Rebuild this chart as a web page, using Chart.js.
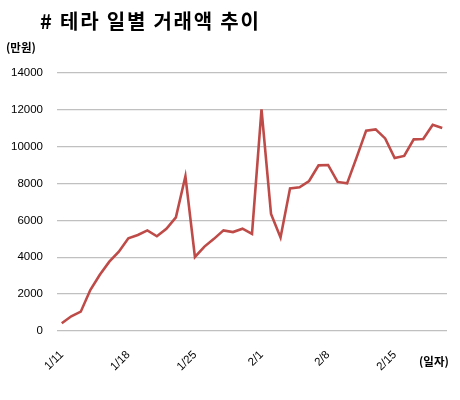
<!DOCTYPE html>
<html><head><meta charset="utf-8">
<script src="https://cdn.jsdelivr.net/npm/chart.js@4/dist/chart.umd.min.js"></script>
<style>
html,body{margin:0;padding:0;background:#fff;}
#wrap{position:relative;width:460px;height:400px;}
.t{position:absolute;font-family:"Noto Sans CJK KR","Noto Sans",sans-serif;color:#000;white-space:nowrap;font-weight:bold;}
</style></head><body>
<div id="wrap">
<canvas id="c" width="460" height="400"></canvas>
<div class="t" style="left:40px;top:7px;font-size:20px;line-height:28px;letter-spacing:1.8px;"># 테라 일별 거래액 추이</div>
<div class="t" style="left:6px;top:38px;font-size:11.5px;line-height:18px;">(만원)</div>
<div class="t" style="left:419px;top:352px;font-size:11.5px;line-height:18px;">(일자)</div>
</div>
<script>
const categories = ["1/11","1/12","1/13","1/14","1/15","1/16","1/17","1/18","1/19","1/20","1/21","1/22","1/23","1/24","1/25","1/26","1/27","1/28","1/29","1/30","1/31","2/1","2/2","2/3","2/4","2/5","2/6","2/7","2/8","2/9","2/10","2/11","2/12","2/13","2/14","2/15","2/16","2/17","2/18","2/19","2/20"];
const values = [420,800,1050,2220,3050,3760,4300,5030,5210,5460,5140,5550,6170,8400,4020,4580,5000,5460,5370,5550,5270,12030,6350,5080,7740,7800,8140,8990,9010,8090,8010,9420,10870,10940,10450,9390,9500,10400,10420,11190,11020];
const yTicks = [0,2000,4000,6000,8000,10000,12000,14000];
const shownLabels = ["1/11","1/18","1/25","2/1","2/8","2/15"];

new Chart(document.getElementById('c'), {
  type: 'line',
  data: {
    labels: categories,
    datasets: [{
      data: values,
      borderColor: '#be4b48',
      borderWidth: 2.6,
      pointRadius: 0,
      tension: 0,
      fill: false
    }]
  },
  options: {
    responsive: false,
    animation: false,
    devicePixelRatio: 1,
    layout: { padding: { left: 0, right: 13, top: 73, bottom: 0 } },
    plugins: { legend: { display: false }, title: { display: false }, tooltip: { enabled: false } },
    scales: {
      x: {
        offset: true,
        grid: { display: false, drawTicks: false },
        border: { display: false },
        afterFit: (s) => { s.height = 69; s.paddingLeft = 0; s.paddingRight = 0; s.paddingTop = 0; s.paddingBottom = 0; },
        ticks: {
          autoSkip: false,
          minRotation: 45, maxRotation: 45,
          padding: 17,
          color: '#000',
          font: { family: '"Liberation Sans", Arial, sans-serif', size: 11.5 },
          callback: function(v, i) { const l = categories[i]; return shownLabels.includes(l) ? l : ''; }
        }
      },
      y: {
        min: 0, max: 14000,
        afterFit: (s) => { s.width = 57; s.paddingTop = 0; s.paddingBottom = 0; },
        afterBuildTicks: (s) => { s.ticks = yTicks.map(v => ({ value: v })); },
        grid: { color: '#c0c0c0', lineWidth: 1.3, drawTicks: false },
        border: { display: false },
        ticks: {
          padding: 14,
          color: '#000',
          font: { family: '"Liberation Sans", Arial, sans-serif', size: 11.5 },
          callback: (v) => String(v)
        }
      }
    }
  }
});
</script>
</body></html>
